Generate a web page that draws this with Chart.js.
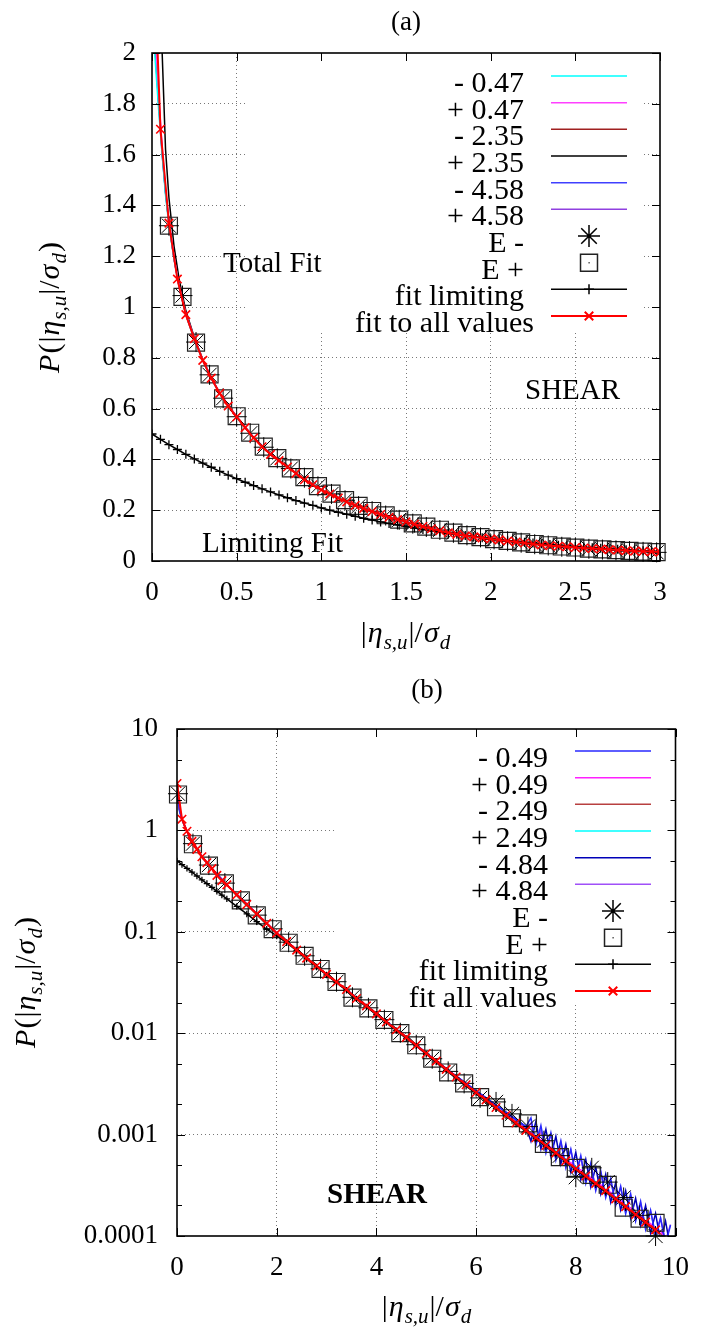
<!DOCTYPE html>
<html>
<head>
<meta charset="utf-8">
<script src="https://cdn.jsdelivr.net/npm/chart.js@4.4.1/dist/chart.umd.min.js"></script>
<style>
    body { margin: 0; background: #fff; }
    canvas { display: block; }
</style>
</head>
<body>
<canvas id="graph-a" width="705" height="667"></canvas>
<canvas id="graph-b" width="705" height="667"></canvas>
<script>
// ---------- panel (a), linear scale ----------
const xTicksA = [0, 0.5, 1, 1.5, 2, 2.5, 3];
const xTickLabelsA = ["0", "0.5", "1", "1.5", "2", "2.5", "3"];
const yTicksA = [0, 0.2, 0.4, 0.6, 0.8, 1, 1.2, 1.4, 1.6, 1.8, 2];
const yTickLabelsA = ["0", "0.2", "0.4", "0.6", "0.8", "1", "1.2", "1.4", "1.6", "1.8", "2"];
const legendLabelsA = ["- 0.47", "+ 0.47", "- 2.35", "+ 2.35", "- 4.58", "+ 4.58", "E -", "E +", "fit limiting", "fit to all values"];
const lineColorsA = ["#00ffff", "#ff40ff", "#a02020", "#000000", "#4040ff", "#9040e0"];

const curveXA = [0.005, 0.02, 0.04, 0.06, 0.08, 0.1, 0.13, 0.16, 0.2, 0.25, 0.3, 0.35, 0.4, 0.5, 0.6, 0.7, 0.8, 0.9, 1.0, 1.2, 1.4, 1.6, 1.8, 2.0, 2.2, 2.4, 2.6, 2.8, 3.0];
const minus047A = [2.12, 1.96, 1.77, 1.60, 1.44, 1.32, 1.19, 1.08, 0.97, 0.872, 0.79, 0.72, 0.66, 0.565, 0.486, 0.421, 0.369, 0.321, 0.281, 0.22, 0.171, 0.136, 0.106, 0.086, 0.071, 0.059, 0.049, 0.041, 0.035];
const plus047A = [2.45, 2.06, 1.83, 1.63, 1.46, 1.34, 1.195, 1.085, 0.975, 0.877, 0.792, 0.722, 0.661, 0.568, 0.486, 0.421, 0.371, 0.321, 0.281, 0.219, 0.172, 0.137, 0.105, 0.087, 0.071, 0.058, 0.048, 0.041, 0.035];
const minus235A = [2.3, 2.0, 1.8, 1.61, 1.45, 1.33, 1.19, 1.08, 0.968, 0.874, 0.79, 0.719, 0.659, 0.566, 0.484, 0.42, 0.37, 0.32, 0.28, 0.218, 0.172, 0.136, 0.105, 0.087, 0.07, 0.058, 0.049, 0.041, 0.035];
const plus235A = [3.2, 2.8, 2.4, 2.0, 1.62, 1.43, 1.24, 1.11, 0.985, 0.88, 0.793, 0.72, 0.66, 0.567, 0.485, 0.42, 0.37, 0.32, 0.28, 0.219, 0.172, 0.136, 0.105, 0.087, 0.071, 0.058, 0.049, 0.041, 0.035];
const minus458A = [2.25, 2.0, 1.79, 1.6, 1.45, 1.33, 1.19, 1.08, 0.97, 0.875, 0.79, 0.72, 0.66, 0.567, 0.486, 0.42, 0.37, 0.32, 0.28, 0.219, 0.172, 0.136, 0.105, 0.087, 0.071, 0.058, 0.049, 0.041, 0.035];
const plus458A = [2.35, 2.03, 1.81, 1.615, 1.455, 1.335, 1.192, 1.082, 0.972, 0.876, 0.791, 0.721, 0.661, 0.568, 0.487, 0.422, 0.371, 0.321, 0.281, 0.22, 0.173, 0.137, 0.106, 0.088, 0.071, 0.059, 0.049, 0.041, 0.035];

const fitXA = [0, 0.05, 0.1, 0.15, 0.2, 0.25, 0.3, 0.35, 0.4, 0.45, 0.5, 0.55, 0.6, 0.65, 0.7, 0.75, 0.8, 0.85, 0.9, 0.95, 1.0,
    1.05, 1.1, 1.15, 1.2, 1.25, 1.3, 1.35, 1.4, 1.45, 1.5, 1.55, 1.6, 1.65, 1.7, 1.75, 1.8, 1.85, 1.9, 1.95, 2.0,
    2.05, 2.1, 2.15, 2.2, 2.25, 2.3, 2.35, 2.4, 2.45, 2.5, 2.55, 2.6, 2.65, 2.7, 2.75, 2.8, 2.85, 2.9, 2.95, 3.0];
const fitAllA = [2.6, 1.70, 1.33, 1.11, 0.97, 0.875, 0.79, 0.72, 0.66, 0.61, 0.567, 0.525, 0.485, 0.45, 0.42, 0.395, 0.37, 0.345, 0.32, 0.30, 0.28,
    0.264, 0.248, 0.233, 0.219, 0.207, 0.195, 0.183, 0.172, 0.163, 0.154, 0.145, 0.136, 0.127, 0.119, 0.111, 0.105, 0.099, 0.095, 0.091, 0.087,
    0.083, 0.079, 0.075, 0.071, 0.067, 0.063, 0.060, 0.058, 0.056, 0.053, 0.051, 0.049, 0.047, 0.045, 0.043, 0.041, 0.039, 0.038, 0.037, 0.035];
const fitLimitingA = [0.500, 0.479, 0.458, 0.439, 0.420, 0.402, 0.385, 0.369, 0.353, 0.338, 0.324, 0.310, 0.297, 0.284, 0.272, 0.260, 0.249, 0.238, 0.228, 0.219, 0.209,
    0.200, 0.192, 0.184, 0.176, 0.168, 0.161, 0.154, 0.148, 0.142, 0.136, 0.130, 0.124, 0.119, 0.114, 0.109, 0.105, 0.100, 0.096, 0.092, 0.088,
    0.084, 0.080, 0.077, 0.074, 0.071, 0.068, 0.065, 0.062, 0.059, 0.057, 0.054, 0.052, 0.050, 0.048, 0.046, 0.044, 0.042, 0.040, 0.038, 0.037];

const dataXA = [0.1, 0.18, 0.26, 0.34, 0.42, 0.5, 0.58, 0.66, 0.74, 0.82, 0.9, 0.98, 1.06, 1.14, 1.22, 1.3, 1.38, 1.46, 1.54, 1.62,
    1.7, 1.78, 1.86, 1.94, 2.02, 2.1, 2.18, 2.26, 2.34, 2.42, 2.5, 2.58, 2.66, 2.74, 2.82, 2.9, 2.98];
const ePlusA = [1.32, 1.04, 0.86, 0.735, 0.64, 0.57, 0.505, 0.45, 0.405, 0.365, 0.33, 0.295, 0.265, 0.24, 0.217, 0.197, 0.18, 0.163, 0.148, 0.135,
    0.123, 0.112, 0.102, 0.094, 0.086, 0.079, 0.073, 0.067, 0.062, 0.057, 0.053, 0.049, 0.046, 0.043, 0.040, 0.037, 0.035];
const eMinusA = [1.32, 1.045, 0.862, 0.733, 0.641, 0.568, 0.503, 0.448, 0.404, 0.364, 0.328, 0.294, 0.264, 0.239, 0.216, 0.196, 0.179, 0.162, 0.147, 0.134,
    0.122, 0.111, 0.101, 0.093, 0.085, 0.078, 0.072, 0.066, 0.061, 0.056, 0.052, 0.048, 0.045, 0.042, 0.039, 0.036, 0.034];

// ---------- panel (b), log scale ----------
const xTicksB = [0, 2, 4, 6, 8, 10];
const xTickLabelsB = ["0", "2", "4", "6", "8", "10"];
const yTicksB = [1e-4, 2e-4, 5e-4, 1e-3, 2e-3, 5e-3, 0.01, 0.02, 0.05, 0.1, 0.2, 0.5, 1, 2, 5, 10];
const yTickLabelsB = ["0.0001", "", "", "0.001", "", "", "0.01", "", "", "0.1", "", "", "1", "", "", "10"];
const legendLabelsB = ["- 0.49", "+ 0.49", "- 2.49", "+ 2.49", "- 4.84", "+ 4.84", "E -", "E +", "fit limiting", "fit all values"];
const lineColorsB = ["#2828ff", "#ff20ff", "#b84040", "#00ffff", "#0000b8", "#a050f8"];

const curveXB = [0, 0.05, 0.1, 0.2, 0.3, 0.5, 0.7, 1.0, 1.5, 2, 2.5, 3, 3.5, 4, 4.5, 5, 5.5, 6, 6.5, 7,
    7.1, 7.2, 7.3, 7.4, 7.5, 7.6, 7.7, 7.8, 7.9, 8.0, 8.1, 8.2, 8.3, 8.4, 8.5, 8.6, 8.7, 8.8, 8.9, 9.0,
    9.1, 9.2, 9.3, 9.4, 9.5, 9.6, 9.7, 9.8, 9.9];
const minus049B = [2.5, 1.55, 1.27, 0.97, 0.78, 0.55, 0.42, 0.29, 0.168, 0.097, 0.060, 0.038, 0.0246, 0.0156, 0.0100, 0.0064, 0.0041, 0.0027, 0.0018, 0.0012,
    1.46e-3, 7.9e-4, 1.23e-3, 6.6e-4, 1.04e-3, 5.6e-4, 8.7e-4, 4.7e-4, 7.2e-4, 3.9e-4, 6.2e-4, 3.3e-4, 5.2e-4, 2.8e-4, 4.4e-4, 2.4e-4, 3.7e-4, 2.0e-4, 3.1e-4, 1.65e-4,
    2.6e-4, 1.4e-4, 2.2e-4, 1.16e-4, 1.8e-4, 0.98e-4, 1.5e-4, 0.82e-4, 1.28e-4];
const plus049B = [2.7, 1.62, 1.3, 0.985, 0.785, 0.552, 0.421, 0.291, 0.169, 0.098, 0.0605, 0.0382, 0.0244, 0.0154, 0.0098, 0.0062, 0.0040, 0.0026, 0.0017, 0.0011,
    1.05e-3, 9.0e-4, 8.9e-4, 7.6e-4, 7.5e-4, 6.4e-4, 6.3e-4, 5.3e-4, 5.3e-4, 4.5e-4, 4.5e-4, 3.8e-4, 3.8e-4, 3.2e-4, 3.2e-4, 2.7e-4, 2.7e-4, 2.25e-4, 2.25e-4, 1.9e-4,
    1.9e-4, 1.6e-4, 1.6e-4, 1.33e-4, 1.33e-4, 1.12e-4, 1.12e-4, 0.94e-4, 0.94e-4];
const minus249B = [2.6, 1.6, 1.29, 0.98, 0.78, 0.55, 0.42, 0.29, 0.168, 0.097, 0.060, 0.038, 0.0245, 0.0155, 0.0099, 0.0063, 0.0040, 0.0026, 0.0017, 0.0011,
    1.01e-3, 9.3e-4, 8.5e-4, 7.8e-4, 7.2e-4, 6.6e-4, 6.0e-4, 5.5e-4, 5.0e-4, 4.6e-4, 4.25e-4, 3.9e-4, 3.6e-4, 3.3e-4, 3.05e-4, 2.8e-4, 2.55e-4, 2.32e-4, 2.13e-4, 1.95e-4,
    1.78e-4, 1.63e-4, 1.5e-4, 1.37e-4, 1.26e-4, 1.15e-4, 1.05e-4, 0.96e-4, 0.88e-4];
const plus249B = [2.55, 1.58, 1.28, 0.975, 0.778, 0.549, 0.42, 0.29, 0.167, 0.097, 0.0598, 0.0379, 0.0245, 0.0155, 0.0099, 0.0063, 0.0040, 0.0026, 0.0017, 0.0011,
    1.0e-3, 9.6e-4, 8.3e-4, 8.1e-4, 7.0e-4, 6.9e-4, 5.9e-4, 5.7e-4, 4.9e-4, 4.8e-4, 4.15e-4, 4.05e-4, 3.5e-4, 3.45e-4, 2.95e-4, 2.9e-4, 2.5e-4, 2.4e-4, 2.08e-4, 2.02e-4,
    1.74e-4, 1.7e-4, 1.46e-4, 1.42e-4, 1.23e-4, 1.19e-4, 1.03e-4, 0.99e-4, 0.86e-4];
const minus484B = [2.6, 1.6, 1.29, 0.98, 0.78, 0.55, 0.42, 0.29, 0.168, 0.097, 0.060, 0.038, 0.0245, 0.0156, 0.0100, 0.0064, 0.0041, 0.0027, 0.0018, 0.0012,
    8.6e-4, 1.35e-3, 7.2e-4, 1.13e-3, 6.1e-4, 9.6e-4, 5.1e-4, 8.0e-4, 4.25e-4, 6.7e-4, 3.6e-4, 5.7e-4, 3.05e-4, 4.8e-4, 2.6e-4, 4.05e-4, 2.15e-4, 3.35e-4, 1.8e-4, 2.8e-4,
    1.5e-4, 2.35e-4, 1.27e-4, 2.0e-4, 1.07e-4, 1.67e-4, 0.89e-4, 1.4e-4, 0.75e-4];
const plus484B = [2.65, 1.61, 1.3, 0.98, 0.78, 0.551, 0.421, 0.29, 0.168, 0.097, 0.060, 0.0381, 0.0246, 0.0156, 0.0099, 0.0063, 0.0041, 0.0027, 0.0018, 0.00115,
    1.3e-3, 8.0e-4, 1.1e-3, 6.8e-4, 1.0e-3, 5.9e-4, 8.4e-4, 4.9e-4, 7.0e-4, 4.1e-4, 5.9e-4, 3.4e-4, 5.0e-4, 2.9e-4, 4.2e-4, 2.5e-4, 3.5e-4, 2.1e-4, 3.0e-4, 1.75e-4,
    2.5e-4, 1.45e-4, 2.1e-4, 1.22e-4, 1.75e-4, 1.05e-4, 1.5e-4, 0.9e-4, 1.3e-4];

const fitXB = [0, 0.1, 0.2, 0.3, 0.4, 0.5, 0.6, 0.7, 0.8, 0.9, 1.0,
    1.2, 1.4, 1.6, 1.8, 2.0, 2.2, 2.4, 2.6, 2.8, 3.0, 3.2, 3.4, 3.6, 3.8, 4.0, 4.2, 4.4, 4.6, 4.8, 5.0,
    5.2, 5.4, 5.6, 5.8, 6.0, 6.2, 6.4, 6.6, 6.8, 7.0, 7.2, 7.4, 7.6, 7.8, 8.0, 8.2, 8.4, 8.6, 8.8, 9.0, 9.2, 9.4, 9.6];
const fitAllB = [2.9, 1.29, 0.98, 0.78, 0.65, 0.55, 0.48, 0.42, 0.36, 0.32, 0.29,
    0.232, 0.186, 0.150, 0.121, 0.097, 0.080, 0.066, 0.055, 0.046, 0.038, 0.032, 0.027, 0.022, 0.0186, 0.0155, 0.0129, 0.0108, 0.0091, 0.0076, 0.0063,
    0.0053, 0.0044, 0.0037, 0.0031, 0.0026, 0.0022, 0.00185, 0.00155, 0.0013, 0.0011, 0.00093, 0.00078, 0.00066, 0.00055, 0.00046, 0.00039, 0.00033, 0.00028, 0.000232, 0.000195, 0.000163, 0.000137, 0.000115];
const fitLimitingB = [0.50, 0.46, 0.422, 0.387, 0.355, 0.325, 0.299, 0.274, 0.251, 0.23, 0.211,
    0.178, 0.15, 0.126, 0.106, 0.091, 0.078, 0.065, 0.054, 0.045, 0.0375, 0.0315, 0.0265, 0.0218, 0.0182, 0.0152, 0.0127, 0.0106, 0.0089, 0.0075, 0.0062,
    0.0052, 0.0043, 0.0036, 0.0030, 0.00255, 0.00215, 0.0018, 0.00152, 0.00127, 0.00108, 0.00091, 0.00076, 0.00064, 0.00054, 0.00045, 0.00038, 0.00032, 0.00027, 0.000228, 0.00019, 0.00016, 0.000134, 0.000112];

const dataXB = [0.02, 0.32, 0.64, 0.96, 1.28, 1.6, 1.92, 2.24, 2.56, 2.88, 3.2, 3.52, 3.84, 4.16, 4.48, 4.8, 5.12, 5.44, 5.76, 6.08,
    6.4, 6.72, 7.04, 7.36, 7.68, 8.0, 8.32, 8.64, 8.96, 9.28, 9.6];
const ePlusB = [2.26, 0.73, 0.45, 0.30, 0.204, 0.145, 0.106, 0.078, 0.058, 0.043, 0.032, 0.0224, 0.0176, 0.0135, 0.0100, 0.0076, 0.0056, 0.0041, 0.0032, 0.00234,
    0.00186, 0.00145, 0.00129, 0.00081, 0.0006, 0.00047, 0.0004, 0.00032, 0.00019, 0.000148, 0.000135];
const eMinusB = [2.3, 0.74, 0.455, 0.302, 0.205, 0.146, 0.107, 0.079, 0.058, 0.0432, 0.0322, 0.0226, 0.0178, 0.0136, 0.0101, 0.0077, 0.0056, 0.0042, 0.0032, 0.0023,
    0.0021, 0.0016, 0.0012, 0.00087, 0.00062, 0.00038, 0.00047, 0.00034, 0.00024, 0.00016, 0.0001];

const SERIF = "'Liberation Serif', 'Times New Roman', serif";

function toPoints(xs, ys) {
    return xs.map((x, i) => ({ x: x, y: ys[i] }));
}

// P(|eta_{s,u}|/sigma_d) pieces: text, italic, subscript
const xTitleParts = [["|", false, false], ["η", true, false], ["s,u", true, true], ["|/", false, false], ["σ", true, false], ["d", true, true]];
const yTitleParts = [["P", true, false], ["(", false, false]].concat(xTitleParts, [[")", false, false]]);

function mathFont(size, italic, sub) {
    return (italic ? "italic " : "") + (sub ? size * 0.7 : size) + "px " + SERIF;
}

function drawMath(ctx, parts, size, cx, baseline) {
    let width = 0;
    parts.forEach(p => { ctx.font = mathFont(size, p[1], p[2]); width += ctx.measureText(p[0]).width + 1; });
    let x = cx - width / 2;
    ctx.textAlign = "left";
    ctx.textBaseline = "alphabetic";
    parts.forEach(p => {
        ctx.font = mathFont(size, p[1], p[2]);
        ctx.fillText(p[0], x, baseline + (p[2] ? size * 0.24 : 0));
        x += ctx.measureText(p[0]).width + 1;
    });
}

// border, inward ticks, opaque key, labels
const framePlugin = {
    id: "frame",
    beforeDatasetsDraw(chart, args, opts) {
        const ctx = chart.ctx;
        const b = opts.keyBox;
        ctx.save();
        ctx.fillStyle = "#fff";
        ctx.fillRect(b[0], b[1], b[2], b[3]);
        ctx.restore();
    },
    afterDatasetsDraw(chart, args, opts) {
        const ctx = chart.ctx;
        const a = chart.chartArea;
        const xs = chart.scales.x;
        const ys = chart.scales.y;
        ctx.save();
        ctx.strokeStyle = "#000";
        ctx.lineWidth = 1;
        ctx.beginPath();
        opts.xTicks.forEach(v => {
            const px = Math.round(xs.getPixelForValue(v)) + 0.5;
            ctx.moveTo(px, a.bottom); ctx.lineTo(px, a.bottom - 8);
            ctx.moveTo(px, a.top); ctx.lineTo(px, a.top + 8);
        });
        opts.yTicks.forEach((v, i) => {
            const py = Math.round(ys.getPixelForValue(v)) + 0.5;
            const len = opts.yLabels[i] === "" ? 5 : 8;
            ctx.moveTo(a.left, py); ctx.lineTo(a.left + len, py);
            ctx.moveTo(a.right, py); ctx.lineTo(a.right - len, py);
        });
        ctx.stroke();
        ctx.lineWidth = 1.6;
        ctx.strokeRect(a.left, a.top, a.right - a.left, a.bottom - a.top);

        // key
        const k = opts.key;
        chart.data.datasets.forEach((ds, i) => {
            const y = k.y0 + i * k.dy;
            ctx.fillStyle = "#000";
            ctx.font = "30px " + SERIF;
            ctx.textAlign = "right";
            ctx.textBaseline = "alphabetic";
            const shift = i === chart.data.datasets.length - 1 ? k.lastShift : 0;
            ctx.fillText(ds.label, k.textX + shift, y + 16);
            if (ds.showLine !== false) {
                ctx.strokeStyle = ds.borderColor;
                ctx.lineWidth = ds.borderWidth;
                ctx.beginPath();
                ctx.moveTo(k.x0, y); ctx.lineTo(k.x1, y);
                ctx.stroke();
            }
            if (ds.pointRadius > 0) {
                ctx.strokeStyle = ds.pointBorderColor;
                ctx.fillStyle = "rgba(0,0,0,0)";
                Chart.helpers.drawPoint(ctx, { pointStyle: ds.pointStyle, radius: ds.keyRadius, rotation: 0, borderWidth: ds.pointBorderWidth }, (k.x0 + k.x1) / 2, y);
                if (ds.pointStyle === "rect") {
                    ctx.fillStyle = "#000";
                    ctx.fillRect((k.x0 + k.x1) / 2 - 0.5, y - 0.5, 1.2, 1.2);
                }
            }
        });

        ctx.fillStyle = "#000";
        opts.texts.forEach(t => {
            ctx.font = t.font;
            ctx.textAlign = t.align;
            ctx.textBaseline = "alphabetic";
            ctx.fillText(t.text, t.x, t.y);
        });
        drawMath(ctx, xTitleParts, opts.xTitle.size, opts.xTitle.x, opts.xTitle.y);
        ctx.translate(opts.yTitle.x, opts.yTitle.y);
        ctx.rotate(-Math.PI / 2);
        drawMath(ctx, yTitleParts, opts.yTitle.size, 0, 0);
        ctx.restore();
    }
};

function lineSet(label, xs, ys, color, order) {
    return {
        label: label, data: toPoints(xs, ys), borderColor: color, borderWidth: 1.5,
        pointRadius: 0, pointBorderColor: color, order: order
    };
}

function buildDatasets(labels, colors, curveX, lines, dataX, eMinus, ePlus, fitX, limiting, fitAll, crossR) {
    const sets = lines.map((ys, i) => lineSet(labels[i], curveX, ys, colors[i], 10 + i));
    sets.push({
        label: labels[6], data: toPoints(dataX, eMinus), showLine: false, pointStyle: "star",
        pointRadius: 10, keyRadius: 11, pointBorderColor: "#000", pointBackgroundColor: "rgba(0,0,0,0)",
        pointBorderWidth: 1, borderColor: "#000", clip: false, order: 3
    });
    sets.push({
        label: labels[7], data: toPoints(dataX, ePlus), showLine: false, pointStyle: "rect",
        pointRadius: 12, keyRadius: 12, pointBorderColor: "#222", pointBackgroundColor: "rgba(0,0,0,0)",
        pointBorderWidth: 1.2, borderColor: "#222", clip: false, order: 4
    });
    sets.push({
        label: labels[8], data: toPoints(fitX, limiting), borderColor: "#000", borderWidth: 1.5,
        pointStyle: "cross", pointRadius: crossR, keyRadius: 5, pointBorderColor: "#000", pointBorderWidth: 1.3, order: 2
    });
    sets.push({
        label: labels[9], data: toPoints(fitX, fitAll), borderColor: "#ff0000", borderWidth: 2,
        pointStyle: "crossRot", pointRadius: 6, keyRadius: 6, pointBorderColor: "#ff0000", pointBorderWidth: 1.6, order: 1
    });
    return sets;
}

function axisOptions(kind, min, max, ticks, labels, gridFilter, pad, fit) {
    return {
        type: kind, min: min, max: max,
        afterBuildTicks: axis => { axis.ticks = ticks.map(v => ({ value: v })); },
        afterFit: scale => { if (scale.isHorizontal()) { scale.height = fit; } else { scale.width = fit; } },
        ticks: {
            autoSkip: false, maxRotation: 0, padding: pad, color: "#000",
            font: { family: SERIF, size: 27 },
            callback: (v, i) => labels[i]
        },
        grid: {
            drawTicks: false, lineWidth: 1,
            color: c => gridFilter(c.tick.value) ? "#777" : "rgba(0,0,0,0)"
        },
        border: { display: false, dash: [1, 3] }
    };
}

function renderPanelA() {
    const ctx = document.getElementById("graph-a").getContext("2d");
    new Chart(ctx, {
        type: "line",
        data: {
            datasets: buildDatasets(legendLabelsA, lineColorsA, curveXA,
                [minus047A, plus047A, minus235A, plus235A, minus458A, plus458A],
                dataXA, eMinusA, ePlusA, fitXA, fitLimitingA, fitAllA, 4.5)
        },
        options: {
            responsive: false, animation: false, devicePixelRatio: 1,
            layout: { padding: { left: 72, right: 45, top: 53, bottom: 66 } },
            plugins: {
                legend: { display: false }, tooltip: { enabled: false },
                frame: {
                    xTicks: xTicksA, yTicks: yTicksA, yLabels: yTickLabelsA,
                    keyBox: [247, 54, 396, 278],
                    key: { y0: 76, dy: 26.67, textX: 524, lastShift: 10, x0: 551, x1: 627 },
                    texts: [
                        { text: "(a)", x: 406, y: 30, font: "27px " + SERIF, align: "center" },
                        { text: "Total Fit", x: 223, y: 272, font: "29px " + SERIF, align: "left" },
                        { text: "SHEAR", x: 525, y: 399, font: "29px " + SERIF, align: "left" },
                        { text: "Limiting Fit", x: 202, y: 552, font: "29px " + SERIF, align: "left" }
                    ],
                    xTitle: { x: 406, y: 642, size: 30 },
                    yTitle: { x: 59, y: 307, size: 30 }
                }
            },
            scales: {
                x: axisOptions("linear", 0, 3, xTicksA, xTickLabelsA, v => v > 0 && v < 3, 16, 40),
                y: axisOptions("linear", 0, 2, yTicksA, yTickLabelsA, v => v > 0.01 && v < 1.99, 16, 80)
            }
        },
        plugins: [framePlugin]
    });
}

function renderPanelB() {
    const ctx = document.getElementById("graph-b").getContext("2d");
    const majors = [0.001, 0.01, 0.1, 1];
    new Chart(ctx, {
        type: "line",
        data: {
            datasets: buildDatasets(legendLabelsB, lineColorsB, curveXB,
                [minus049B, plus049B, minus249B, plus249B, minus484B, plus484B],
                dataXB, eMinusB, ePlusB, fitXB, fitLimitingB, fitAllB, 3.2)
        },
        options: {
            responsive: false, animation: false, devicePixelRatio: 1,
            layout: { padding: { left: 77, right: 28, top: 62, bottom: 58 } },
            plugins: {
                legend: { display: false }, tooltip: { enabled: false },
                frame: {
                    xTicks: xTicksB, yTicks: yTicksB, yLabels: yTickLabelsB,
                    keyBox: [335, 63, 333, 273],
                    key: { y0: 84, dy: 26.67, textX: 548, lastShift: 9, x0: 575, x1: 651 },
                    texts: [
                        { text: "(b)", x: 427, y: 31, font: "27px " + SERIF, align: "center" },
                        { text: "SHEAR", x: 377, y: 536, font: "bold 29px " + SERIF, align: "center" }
                    ],
                    xTitle: { x: 427, y: 649, size: 30 },
                    yTitle: { x: 35, y: 315, size: 30 }
                }
            },
            scales: {
                x: axisOptions("linear", 0, 10, xTicksB, xTickLabelsB, v => v > 0 && v < 10, 16, 40),
                y: axisOptions("logarithmic", 1e-4, 10, yTicksB, yTickLabelsB,
                    v => majors.some(m => Math.abs(v / m - 1) < 1e-6), 19, 100)
            }
        },
        plugins: [framePlugin]
    });
}

document.addEventListener("DOMContentLoaded", () => {
    renderPanelA();
    renderPanelB();
});
</script>
</body>
</html>
